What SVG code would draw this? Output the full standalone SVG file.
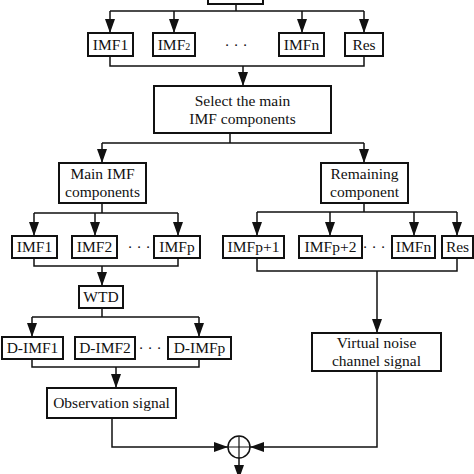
<svg xmlns="http://www.w3.org/2000/svg" width="474" height="474" viewBox="0 0 474 474">
<defs>
<marker id="ah" markerUnits="userSpaceOnUse" markerWidth="14" markerHeight="10" refX="14" refY="5" orient="auto">
<path d="M0,0 L14,5 L0,10 z" fill="#111"/>
</marker>
<style>
.b{fill:#fff;stroke:#111;stroke-width:2}
.t{font-family:"Liberation Serif","Times New Roman",serif;font-size:15.5px;fill:#111;text-anchor:middle}
.c{fill:none;stroke:#111;stroke-width:1.5}
.a{fill:none;stroke:#111;stroke-width:1.5;marker-end:url(#ah)}
</style>
</defs>
<rect width="474" height="474" fill="#fff"/>

<g id="connectors">
<path class="c" d="M236,4 V11 M110,11 H364"/>
<path class="a" d="M110,11 V33"/>
<path class="a" d="M174,11 V33"/>
<path class="a" d="M302,11 V33"/>
<path class="a" d="M364,11 V33"/>
<path class="c" d="M110,56 V66 H364 V56"/>
<path class="a" d="M243,66 V86"/>
<path class="c" d="M230,133 V143 M102,143 H364"/>
<path class="a" d="M102,143 V163"/>
<path class="a" d="M364,143 V163"/>
<path class="c" d="M102,203 V213 M34,213 H178"/>
<path class="a" d="M34,213 V236"/>
<path class="a" d="M95,213 V236"/>
<path class="a" d="M178,213 V236"/>
<path class="c" d="M34,258 V266 H178 V258"/>
<path class="a" d="M102,266 V286"/>
<path class="c" d="M102,308 V317 M32,317 H199"/>
<path class="a" d="M32,317 V337"/>
<path class="a" d="M199,317 V337"/>
<path class="c" d="M32,359 V367 H199 V359"/>
<path class="a" d="M116,367 V388"/>
<path class="a" d="M112,418 V447 H228"/>
<path class="c" d="M364,203 V212 M257,212 H457"/>
<path class="a" d="M257,212 V236"/>
<path class="a" d="M330,212 V236"/>
<path class="a" d="M414,212 V236"/>
<path class="a" d="M457,212 V236"/>
<path class="c" d="M257,258 V271 H457 V258"/>
<path class="a" d="M377,271 V333"/>
<path class="a" d="M377,371 V447 H250"/>
<path class="a" d="M239,458 V479"/>
</g>

<g id="top"><rect class="b" x="208" y="-20" width="55" height="24"/></g>

<g id="imf1"><rect class="b" x="88" y="33" width="45" height="23"/><text class="t" x="110.5" y="50">IMF1</text></g>
<g id="imf2"><rect class="b" x="153" y="33" width="42" height="23"/><text class="t" x="174" y="50">IMF<tspan font-size="10">2</tspan></text></g>
<g id="dots1"><text class="t" x="236" y="50">· · ·</text></g>
<g id="imfn"><rect class="b" x="279" y="33" width="45" height="23"/><text class="t" x="301.5" y="50">IMFn</text></g>
<g id="res"><rect class="b" x="345" y="33" width="38" height="23"/><text class="t" x="364" y="50">Res</text></g>

<g id="select"><rect class="b" x="154" y="86" width="177" height="47"/>
<text class="t" x="242.5" y="106">Select the main</text>
<text class="t" x="242.5" y="124">IMF components</text></g>

<g id="main"><rect class="b" x="59" y="163" width="87" height="40"/>
<text class="t" x="102.5" y="179">Main IMF</text>
<text class="t" x="102.5" y="197">components</text></g>

<g id="remaining"><rect class="b" x="321" y="163" width="87" height="40"/>
<text class="t" x="364.5" y="179">Remaining</text>
<text class="t" x="364.5" y="197">component</text></g>

<g id="l-imf1"><rect class="b" x="12" y="236" width="45" height="22"/><text class="t" x="34.5" y="252">IMF1</text></g>
<g id="l-imf2"><rect class="b" x="72" y="236" width="45" height="22"/><text class="t" x="94.5" y="252">IMF2</text></g>
<g id="dots2"><text class="t" x="139" y="252">· · ·</text></g>
<g id="l-imfp"><rect class="b" x="154" y="236" width="46" height="22"/><text class="t" x="177" y="252">IMFp</text></g>

<g id="r-imfp1"><rect class="b" x="223" y="236" width="61" height="22"/><text class="t" x="253.5" y="252">IMFp+1</text></g>
<g id="r-imfp2"><rect class="b" x="299" y="236" width="63" height="22"/><text class="t" x="330.5" y="252">IMFp+2</text></g>
<g id="dots3"><text class="t" x="374" y="252">· · ·</text></g>
<g id="r-imfn"><rect class="b" x="392" y="236" width="43" height="22"/><text class="t" x="413.5" y="252">IMFn</text></g>
<g id="r-res"><rect class="b" x="442" y="236" width="31" height="22"/><text class="t" x="457.5" y="252">Res</text></g>

<g id="wtd"><rect class="b" x="79" y="286" width="44" height="22"/><text class="t" x="101" y="302">WTD</text></g>

<g id="d-imf1"><rect class="b" x="2" y="337" width="61" height="22"/><text class="t" x="32.5" y="353">D-IMF1</text></g>
<g id="d-imf2"><rect class="b" x="75" y="337" width="60" height="22"/><text class="t" x="105" y="353">D-IMF2</text></g>
<g id="dots4"><text class="t" x="150" y="353">· · ·</text></g>
<g id="d-imfp"><rect class="b" x="168" y="337" width="63" height="22"/><text class="t" x="199.5" y="353">D-IMFp</text></g>

<g id="obs"><rect class="b" x="47" y="388" width="129" height="30"/><text class="t" x="111.5" y="408">Observation signal</text></g>

<g id="virtual"><rect class="b" x="312" y="333" width="129" height="38"/>
<text class="t" x="376.5" y="348">Virtual noise</text>
<text class="t" x="376.5" y="366">channel signal</text></g>

<g id="sum"><circle cx="239" cy="447" r="11" fill="#fff" stroke="#111" stroke-width="1.5"/>
<path d="M228,447 H250 M239,436 V458" stroke="#111" stroke-width="1.2"/></g>
</svg>
